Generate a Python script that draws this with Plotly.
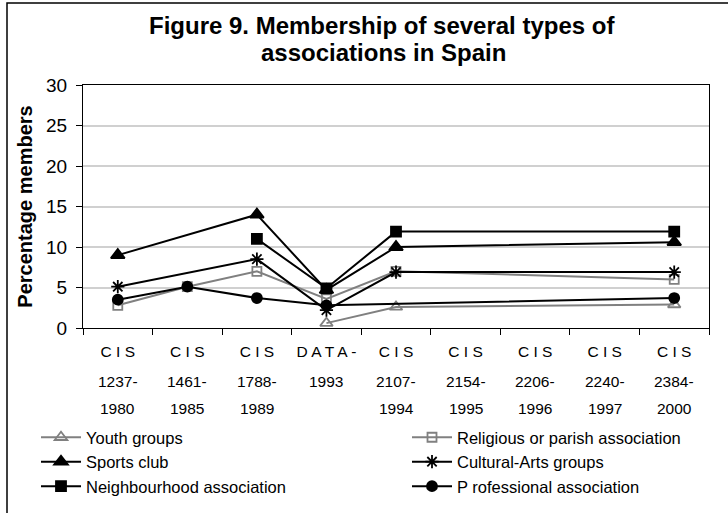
import plotly.graph_objects as go

# ---- data ----
categories = ["CIS 1237-1980", "CIS 1461-1985", "CIS 1788-1989", "DATA-1993",
              "CIS 2107-1994", "CIS 2154-1995", "CIS 2206-1996", "CIS 2240-1997",
              "CIS 2384-2000"]
tick_line1 = ["C I S", "C I S", "C I S", "D A T A -", "C I S", "C I S", "C I S", "C I S", "C I S"]
tick_line2 = ["1237-", "1461-", "1788-", "1993", "2107-", "2154-", "2206-", "2240-", "2384-"]
tick_line3 = ["1980", "1985", "1989", "", "1994", "1995", "1996", "1997", "2000"]

youth = [None, None, None, 0.6, 2.6, None, None, None, 2.9]
religious = [2.8, 5.1, 7.0, 3.6, 7.0, None, None, None, 6.0]
sports = [9.0, None, 14.0, 4.7, 10.0, None, None, None, 10.6]
cultural = [5.1, None, 8.5, 2.2, 6.9, None, None, None, 6.9]
neighbourhood = [None, None, 11.0, 4.9, 11.9, None, None, None, 11.9]
professional = [3.5, 5.1, 3.7, 2.8, None, None, None, None, 3.7]

y_ticks = [0, 5, 10, 15, 20, 25, 30]

# ---- geometry (pixels) ----
W, H = 728, 513
L, R, T, B = 83, 19, 85, 185
PW, PH = W - L - R, H - T - B
px = lambda x: (x - L) / PW
py = lambda y: (H - B - y) / PH

FONT = "Liberation Sans, Arial, sans-serif"
GRAY = "#808080"

series = [
    ("Youth groups", youth, GRAY, "triangle-up-open", 11, "legend"),
    ("Religious or parish association", religious, GRAY, "square-open", 9, "legend2"),
    ("Sports club", sports, "black", "triangle-up", 12, "legend"),
    ("Cultural-Arts groups", cultural, "black", "asterisk-open", 11, "legend2"),
    ("Neighbourhood association", neighbourhood, "black", "square", 10, "legend"),
    ("P rofessional association", professional, "black", "circle", 10, "legend2"),
]

fig = go.Figure()
for name, vals, col, sym, size, leg in series:
    fig.add_trace(go.Scatter(
        x=categories, y=vals, name=name, mode="lines+markers",
        connectgaps=True, legend=leg,
        line=dict(color=col, width=2),
        marker=dict(symbol=sym, size=size, color=col,
                    line=dict(color=col, width=1.8)),
    ))

legend_common = dict(orientation="v", xanchor="left", yanchor="top", itemwidth=40,
                     font=dict(size=16.5, family=FONT), tracegroupgap=0,
                     bgcolor="rgba(0,0,0,0)", borderwidth=0)

annotations = [
    dict(text="<b>Figure 9. Membership of several types of</b>", x=px(382), y=py(25),
         xref="paper", yref="paper", showarrow=False, font=dict(size=24),
         xanchor="center", yanchor="middle"),
    dict(text="<b>associations in Spain</b>", x=px(383), y=py(52),
         xref="paper", yref="paper", showarrow=False, font=dict(size=24),
         xanchor="center", yanchor="middle"),
]
for cat, t2, t3 in zip(categories, tick_line2, tick_line3):
    annotations.append(dict(text=t2, x=cat, xref="x", y=py(381), yref="paper",
                            showarrow=False, font=dict(size=15.5),
                            xanchor="center", yanchor="middle"))
    if t3:
        annotations.append(dict(text=t3, x=cat, xref="x", y=py(408), yref="paper",
                                showarrow=False, font=dict(size=15.5),
                                xanchor="center", yanchor="middle"))

fig.update_layout(
    width=W, height=H,
    margin=dict(l=L, r=R, t=T, b=B, autoexpand=False),
    paper_bgcolor="white", plot_bgcolor="white",
    font=dict(family=FONT, color="black"),
    showlegend=True,
    legend=dict(x=px(36), y=py(420), **legend_common),
    legend2=dict(x=px(407), y=py(420), **legend_common),
    xaxis=dict(type="category", categoryorder="array", categoryarray=categories,
               range=[-0.5, 8.5], tickmode="array", tickvals=categories, ticktext=tick_line1,
               tickson="boundaries", ticks="outside", ticklen=6, tickcolor="black",
               showline=True, linecolor="black", linewidth=1, mirror=True,
               showgrid=False, tickfont=dict(size=15.5), ticklabelstandoff=9),
    yaxis=dict(range=[0, 30], tickmode="array", tickvals=y_ticks,
               ticks="outside", ticklen=6, tickcolor="black",
               showline=True, linecolor="black", linewidth=1, mirror=True,
               showgrid=True, gridcolor="#d0d0d0", gridwidth=1.5, zeroline=False,
               tickfont=dict(size=19), ticklabelstandoff=5,
               title=dict(text="<b>Percentage members</b>", font=dict(size=20), standoff=8)),
    annotations=annotations,
    shapes=[dict(type="rect", xref="paper", yref="paper",
                 x0=px(7), x1=px(735), y0=py(520), y1=py(3),
                 line=dict(color="black", width=1.5), fillcolor="rgba(0,0,0,0)", layer="below")],
)

fig.write_html("out.html", config={"displayModeBar": False},
               post_script="document.body.style.margin='0';")
